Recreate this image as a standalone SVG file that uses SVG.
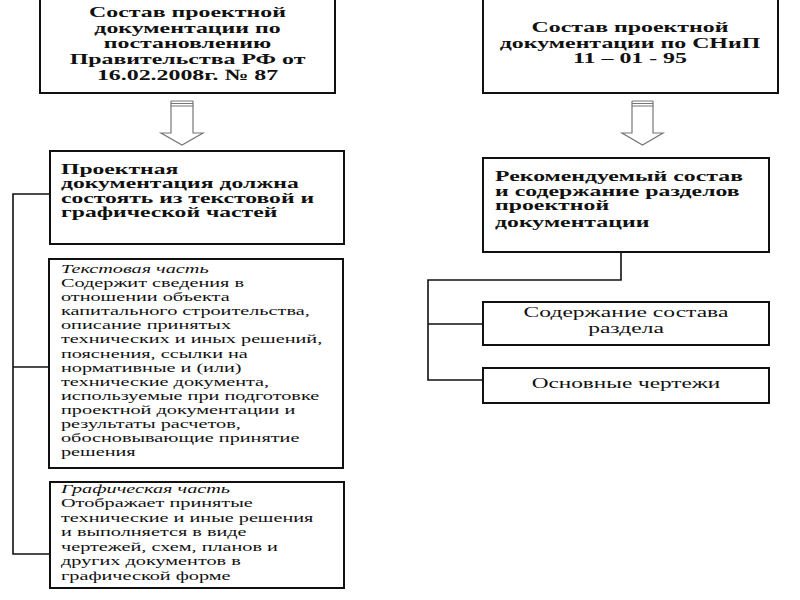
<svg xmlns="http://www.w3.org/2000/svg" width="800" height="600" viewBox="0 0 800 600">
<style>
.box{fill:#fff;stroke:#111;stroke-width:2}
.conn{fill:none;stroke:#111;stroke-width:1.6}
.arr{fill:#fff;stroke:#777;stroke-width:1.2}
.b{font-family:"Liberation Serif",serif;font-weight:bold;fill:#111}
.r{font-family:"Liberation Serif",serif;fill:#111}
.i{font-family:"Liberation Serif",serif;font-style:italic;fill:#111}
.c{text-anchor:middle}
</style>
<rect width="800" height="600" fill="#fff"/>
<g id="connectors">
<path class="conn" d="M50,194 H13 V554 H50 M13,367 H50"/>
<path class="conn" d="M621,252 V280 H428 V380 H483 M428,324 H483"/>
<g id="arrow1">
<polygon class="arr" points="171,106 193,106 193,133 203,133 182,145 161,133 171,133"/>
<path class="arr" d="M171,101 H193 M171,103.5 H193 M171,101 V106 M193,101 V106"/>
</g>
<g id="arrow2">
<polygon class="arr" points="632,106 653,106 653,133 663,133 642.5,145 622,133 632,133"/>
<path class="arr" d="M632,101 H653 M632,103.5 H653 M632,101 V106 M653,101 V106"/>
</g>
</g>
<g id="node1">
<rect class="box" x="40" y="-2" width="295" height="95"/>
<g transform="translate(187.5,0) scale(1.54,1)" class="b c" font-size="15.5">
<text x="0" y="17">Состав проектной</text>
<text x="0" y="32.7">документации по</text>
<text x="0" y="48.4">постановлению</text>
<text x="0" y="64.1">Правительства РФ от</text>
<text x="0" y="79.8">16.02.2008г. № 87</text>
</g>
</g>
<g id="node2">
<rect class="box" x="483" y="-2" width="295" height="95"/>
<g transform="translate(630,0) scale(1.54,1)" class="b c" font-size="15.5">
<text x="0" y="32.3">Состав проектной</text>
<text x="0" y="47.9">документации по СНиП</text>
<text x="0" y="63.5">11 – 01 - 95</text>
</g>
</g>
<g id="node3">
<rect class="box" x="50" y="151" width="294" height="93"/>
<g transform="translate(61,0) scale(1.69,1)" class="b" font-size="14">
<text x="0" y="174">Проектная</text>
<text x="0" y="188.4">документация должна</text>
<text x="0" y="202.8">состоять из текстовой и</text>
<text x="0" y="217.2">графической частей</text>
</g>
</g>
<g id="node4">
<rect class="box" x="483" y="158" width="286" height="94"/>
<g transform="translate(495,0) scale(1.7,1)" class="b" font-size="14">
<text x="0" y="181.5">Рекомендуемый состав</text>
<text x="0" y="196">и содержание разделов</text>
<text x="0" y="210.5">проектной</text>
<text x="0" y="227">документации</text>
</g>
</g>
<g id="node5">
<rect class="box" x="49" y="259" width="294" height="209"/>
<g transform="translate(61,0) scale(1.5,1)" font-size="13.5">
<text class="i" x="0" y="273">Текстовая часть</text>
<g class="r">
<text x="0" y="287.1">Содержит сведения в</text>
<text x="0" y="301.2">отношении объекта</text>
<text x="0" y="315.3">капитального строительства,</text>
<text x="0" y="329.4">описание принятых</text>
<text x="0" y="343.5">технических и иных решений,</text>
<text x="0" y="357.6">пояснения, ссылки на</text>
<text x="0" y="371.7">нормативные и (или)</text>
<text x="0" y="385.8">технические документа,</text>
<text x="0" y="399.9">используемые при подготовке</text>
<text x="0" y="414">проектной документации и</text>
<text x="0" y="428.1">результаты  расчетов,</text>
<text x="0" y="442.2">обосновывающие принятие</text>
<text x="0" y="456.3">решения</text>
</g>
</g>
</g>
<g id="node6">
<rect class="box" x="50" y="482" width="294" height="106"/>
<g transform="translate(61,0) scale(1.5,1)" font-size="13.5">
<text class="i" x="0" y="493">Графическая часть</text>
<g class="r">
<text x="0" y="507.5">Отображает принятые</text>
<text x="0" y="522">технические и иные решения</text>
<text x="0" y="536.5">и выполняется в виде</text>
<text x="0" y="551">чертежей, схем, планов и</text>
<text x="0" y="565.5">других документов в</text>
<text x="0" y="580">графической форме</text>
</g>
</g>
</g>
<g id="node7">
<rect class="box" x="483" y="302" width="286" height="43"/>
<g transform="translate(626,0) scale(1.57,1)" class="r c" font-size="15">
<text x="0" y="317.5">Содержание состава</text>
<text x="0" y="333.5">раздела</text>
</g>
</g>
<g id="node8">
<rect class="box" x="483" y="368" width="286" height="35"/>
<g transform="translate(626,0) scale(1.5,1)" class="r c" font-size="15.5">
<text x="0" y="388">Основные чертежи</text>
</g>
</g>
</svg>
